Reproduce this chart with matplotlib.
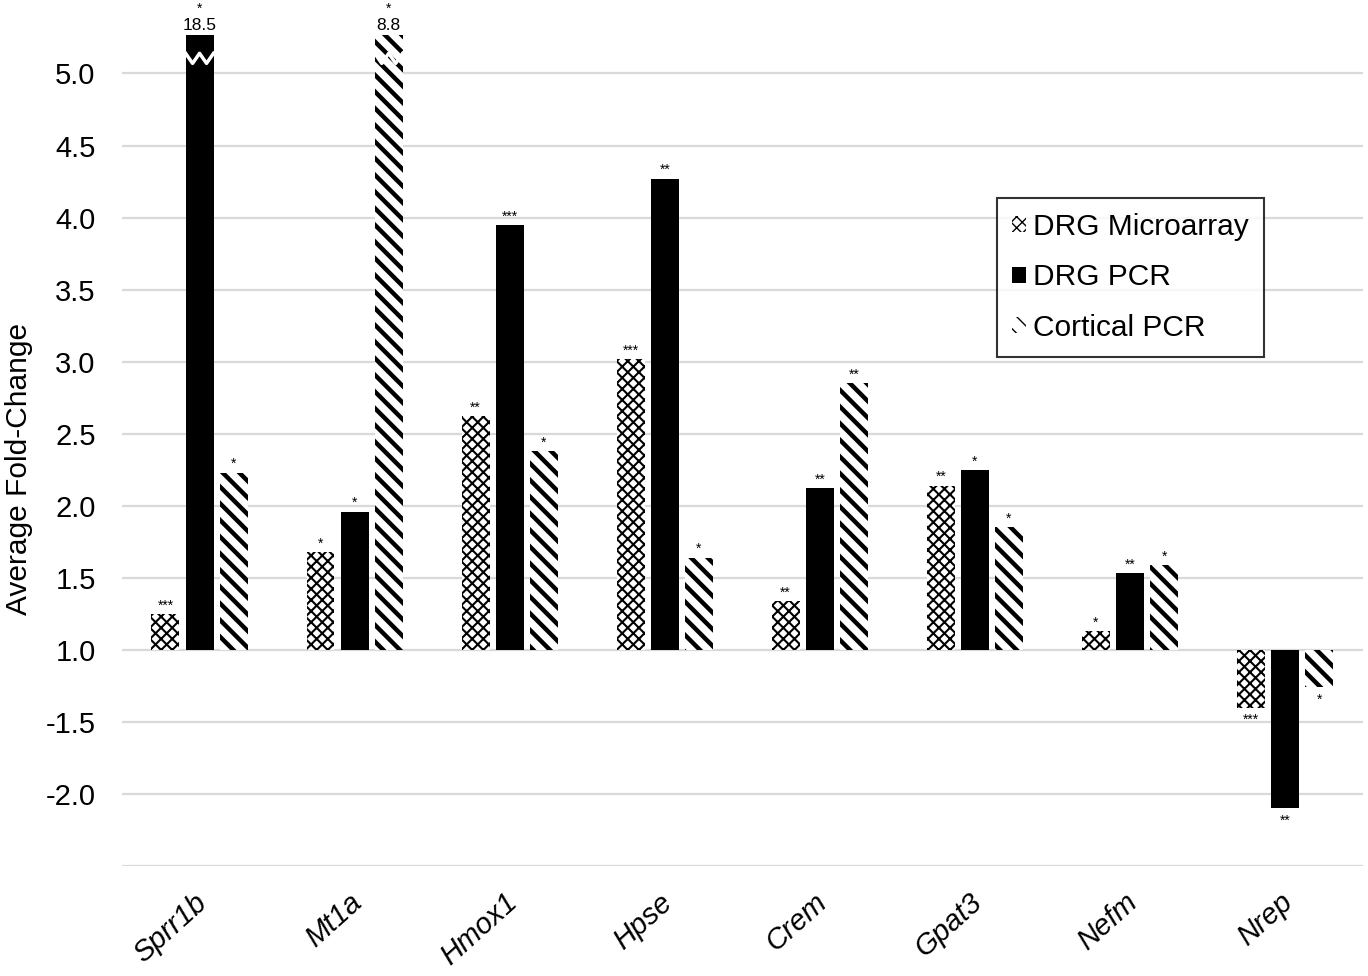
import numpy as np
import matplotlib
matplotlib.use("Agg")
import matplotlib.pyplot as plt
import matplotlib.transforms as mtransforms
from matplotlib.patches import Patch

genes = ['Sprr1b', 'Mt1a', 'Hmox1', 'Hpse', 'Crem', 'Gpat3', 'Nefm', 'Nrep']
drg_micro = [1.25, 1.68, 2.62, 3.02, 1.34, 2.14, 1.13, -1.40]
drg_pcr = [18.5, 1.96, 3.95, 4.27, 2.12, 2.25, 1.53, -2.10]
cort_pcr = [2.23, 8.8, 2.38, 1.64, 2.85, 1.85, 1.59, -1.26]
sig_micro = ['***', '*', '**', '***', '**', '**', '*', '***']
sig_pcr = ['*', '*', '***', '**', '**', '*', '**', '**']
sig_cort = ['*', '*', '*', '*', '**', '*', '*', '*']
series_names = ['DRG Microarray', 'DRG PCR', 'Cortical PCR']

ytick_vals = [5.0, 4.5, 4.0, 3.5, 3.0, 2.5, 2.0, 1.5, 1.0, -1.5, -2.0]
cap = 5.27  # where the broken bars get cut off


def to_pos(v):
    # the axis skips from 1.0 straight to -1.0 (fold-change below 1 shown as negative)
    return v if v > 0 else v + 2.0


plt.rcParams['font.family'] = ['Liberation Sans', 'DejaVu Sans']
plt.rcParams['hatch.color'] = 'black'

fig = plt.figure(figsize=(13.68, 9.76), dpi=100)
ax = fig.add_axes([0.0892, 0.1127, 0.9068, 0.8563])

x = np.arange(len(genes))
w = 0.18
off = 0.22

hatches = ['xxx', None, '\\\\']
hlw = [1.5, 0, 3.2]
series = [drg_micro, drg_pcr, cort_pcr]
sigs = [sig_micro, sig_pcr, sig_cort]

for k, (vals, sig) in enumerate(zip(series, sigs)):
    xs = x + (k - 1) * off
    tops = [min(to_pos(v), cap) for v in vals]
    heights = [t - 1.0 for t in tops]
    with plt.rc_context({'hatch.linewidth': hlw[k]}):
        if hatches[k] is None:
            bars = ax.bar(xs, heights, w, bottom=1.0, color='black', zorder=3)
        else:
            bars = ax.bar(xs, heights, w, bottom=1.0, color='white', edgecolor='black',
                          linewidth=0, hatch=hatches[k], zorder=3)
    for xi, v, t, s in zip(xs, vals, tops, sig):
        if v > cap:
            # broken bar: zigzag + real value on top
            zx = np.linspace(xi - w / 2, xi + w / 2, 5)
            zy = t - np.array([0.13, 0.2, 0.13, 0.2, 0.13])
            ax.plot(zx, zy, color='white', lw=2.5, zorder=4, solid_joinstyle='round')
            ax.text(xi, t + 0.01, f'{v}', ha='center', va='bottom', fontsize=12.5, zorder=5)
            ax.text(xi, t + 0.13, s, ha='center', va='bottom', fontsize=10, zorder=5)
        elif v > 0:
            ax.text(xi, t + 0.01, s, ha='center', va='bottom', fontsize=10, zorder=5)
        else:
            ax.text(xi, t - 0.04, s, ha='center', va='top', fontsize=10, zorder=5)

ax.set_xlim(-0.5, len(genes) - 0.5)
ax.set_ylim(-0.5, 5.3)
ax.set_yticks([to_pos(v) for v in ytick_vals] + [-0.5])
ax.set_yticklabels([f'{v:.1f}' for v in ytick_vals] + [''], fontsize=21)
ax.yaxis.grid(True, color='#d9d9d9', lw=1.6, zorder=0)
ax.set_axisbelow(True)
for sp in ax.spines.values():
    sp.set_visible(False)
ax.tick_params(axis='y', length=0, pad=19)
ax.tick_params(axis='x', length=0, pad=16)
ax.set_xticks(x)
ax.set_xticklabels(genes, rotation=42, ha='right', rotation_mode='anchor',
                   fontsize=21, style='italic')
shift = mtransforms.ScaledTranslation(-6 / 100, 0, fig.dpi_scale_trans)
for lab in ax.get_xticklabels():
    lab.set_transform(lab.get_transform() + shift)
ax.set_ylabel('Average Fold-Change', fontsize=21.5)
ax.yaxis.set_label_coords(-0.0714, 0.475)

handles = []
for k in range(3):
    if hatches[k] is None:
        handles.append(Patch(facecolor='black', label=series_names[k]))
    else:
        with plt.rc_context({'hatch.linewidth': hlw[k]}):
            handles.append(Patch(facecolor='white', edgecolor='black', linewidth=0,
                                 hatch=hatches[k], label=series_names[k]))
leg = fig.legend(handles=handles, loc='upper left', bbox_to_anchor=(0.729, 0.797),
                 fontsize=21.5, frameon=True, fancybox=False, edgecolor='black',
                 handlelength=0.45, handleheight=0.45, handletextpad=0.25,
                 labelspacing=0.75, borderpad=0.5, borderaxespad=0)
leg.get_frame().set_linewidth(1.5)

fig.savefig('out.png', dpi=100)
